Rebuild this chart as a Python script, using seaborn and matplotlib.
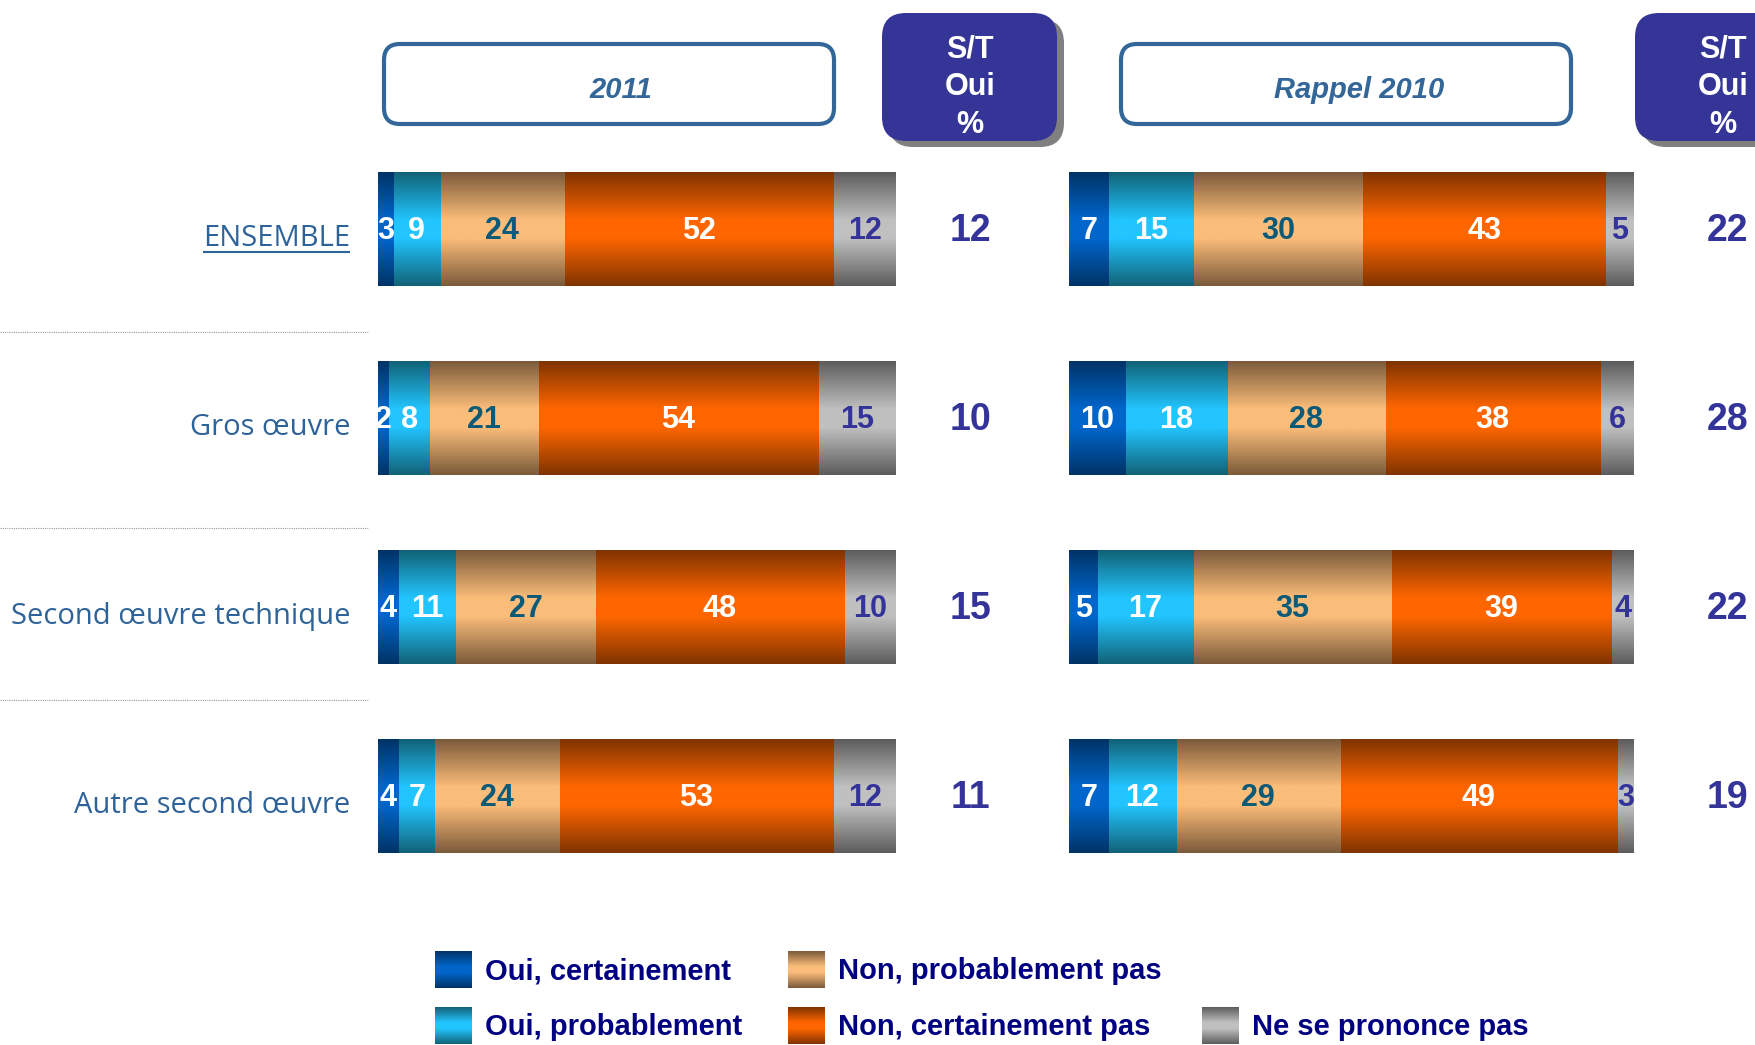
import numpy as np
import pandas as pd
import matplotlib
matplotlib.use("Agg")
import matplotlib.pyplot as plt
import seaborn as sns
from matplotlib.colors import LinearSegmentedColormap
from matplotlib.patches import FancyBboxPatch

# Data
categories = ["ENSEMBLE", "Gros œuvre", "Second œuvre technique", "Autre second œuvre"]
responses = ["Oui, certainement", "Oui, probablement", "Non, probablement pas",
             "Non, certainement pas", "Ne se prononce pas"]

oui_cert_2011 = [3, 2, 4, 4]
oui_prob_2011 = [9, 8, 11, 7]
non_prob_2011 = [24, 21, 27, 24]
non_cert_2011 = [52, 54, 48, 53]
nsp_2011 = [12, 15, 10, 12]
st_oui_2011 = [12, 10, 15, 11]

oui_cert_2010 = [7, 10, 5, 7]
oui_prob_2010 = [15, 18, 17, 12]
non_prob_2010 = [30, 28, 35, 29]
non_cert_2010 = [43, 38, 39, 49]
nsp_2010 = [5, 6, 4, 3]
st_oui_2010 = [22, 28, 22, 19]

# gradient colours (edge, centre) per response
edge_colors = ["#003366", "#116276", "#7b5a3a", "#7f3300", "#5c5c5c"]
mid_colors = ["#0066cc", "#22c5ff", "#fbbd7a", "#ff6600", "#c0c0c0"]
label_colors = ["white", "white", "#0b5a78", "white", "#333399"]
cmaps = [LinearSegmentedColormap.from_list("g%d" % i, [(0, e), (0.42, m), (0.58, m), (1, e)])
         for i, (e, m) in enumerate(zip(edge_colors, mid_colors))]
grad = np.linspace(0, 1, 256).reshape(-1, 1)

sns.set_style("white")
plt.rcParams['font.family'] = ['Liberation Sans', 'DejaVu Sans']

W, H = 1756, 1045
fig = plt.figure(figsize=(W / 100, H / 100), dpi=100)

# overlay axes in pixel coordinates (y down) for decorations
ax0 = fig.add_axes([0, 0, 1, 1])
ax0.set_xlim(0, W)
ax0.set_ylim(H, 0)
ax0.axis('off')

bottom = 1 - 890.5 / H
height = 756 / H
ax1 = fig.add_axes([378 / W, bottom, 518 / W, height])
ax2 = fig.add_axes([1069 / W, bottom, 565 / W, height])


def draw_panel(ax, values, st_values, st_x):
    df = pd.DataFrame(dict(zip(responses, values)))
    df["categorie"] = categories
    cum = df[responses].cumsum(axis=1)
    cum["categorie"] = categories
    n = len(responses)
    for k in reversed(range(n)):
        sns.barplot(data=cum, x=responses[k], y="categorie", orient="h",
                    color=mid_colors[k], saturation=1, width=0.6, ax=ax)
        for p in ax.patches[-len(categories):]:
            x0, y0, w, h = p.get_x(), p.get_y(), p.get_width(), p.get_height()
            ax.imshow(grad, cmap=cmaps[k], aspect='auto',
                      extent=(x0, x0 + w, y0 + h, y0), zorder=10 - k)
    for i in range(len(categories)):
        left = 0
        for k in range(n):
            v = df[responses[k]].iloc[i]
            ax.text(left + v / 2, i + 0.01, str(v), ha='center', va='center',
                    fontsize=22, fontweight='bold', color=label_colors[k], zorder=20)
            left += v
        ax.text(st_x, i + 0.01, str(st_values[i]), ha='center', va='center',
                fontsize=27, fontweight='bold', color='#333399', clip_on=False)
    ax.set_xlim(0, 100)
    ax.set_ylim(3.5, -0.5)
    ax.axis('off')


draw_panel(ax1, [oui_cert_2011, oui_prob_2011, non_prob_2011, non_cert_2011, nsp_2011],
           st_oui_2011, 114.3)
draw_panel(ax2, [oui_cert_2010, oui_prob_2010, non_prob_2010, non_cert_2010, nsp_2010],
           st_oui_2010, 116.6)

# category labels
cat_texts = []
for i, cat in enumerate(categories):
    t = ax1.text(-5.4, i + 0.05, cat, ha='right', va='center', fontsize=21,
                 family=['Open Sans', 'DejaVu Sans'], color='#2e6399', clip_on=False)
    cat_texts.append(t)

# dotted separators
ax0.hlines([332, 528, 700], 0, 368, colors='#9a9a9a', linestyles=(0, (1, 1)), lw=0.8)

# header boxes
for bx, label, tx in [(384, "2011", 621), (1121, "Rappel 2010", 1359)]:
    ax0.add_patch(FancyBboxPatch((bx, 44), 450, 80, boxstyle="round,pad=0,rounding_size=16",
                                 fc='white', ec='#336699', lw=3))
    ax0.text(tx, 90, label, ha='center', va='center', fontsize=21, fontweight='bold',
             style='italic', color='#336699')

for bx in [882, 1635]:
    ax0.add_patch(FancyBboxPatch((bx + 7, 19), 175, 128, boxstyle="round,pad=0,rounding_size=24",
                                 fc='#808080', ec='none'))
    ax0.add_patch(FancyBboxPatch((bx, 13), 175, 128, boxstyle="round,pad=0,rounding_size=24",
                                 fc='#353597', ec='none'))
    for j, s in enumerate(["S/T", "Oui", "%"]):
        ax0.text(bx + 88, 49 + 38 * j, s, ha='center', va='center', fontsize=22,
                 fontweight='bold', color='white')

# legend
legend_pos = [(435, 951), (435, 1007), (788, 951), (788, 1007), (1202, 1007)]
for k, (lx, ly) in enumerate(legend_pos):
    ax0.imshow(grad, cmap=cmaps[k], aspect='auto', extent=(lx, lx + 37, ly + 37, ly), zorder=5)
    ax0.text(lx + 50, ly + 20, responses[k], ha='left', va='center', fontsize=21,
             fontweight='bold', color='#000080')

ax0.set_xlim(0, W)
ax0.set_ylim(H, 0)

# underline ENSEMBLE
fig.canvas.draw()
bb = cat_texts[0].get_window_extent()
ax0.hlines(H - bb.y0 - 1, bb.x0, bb.x1, colors='#2e6399', lw=1.5)

fig.savefig("out.png", dpi=100)
